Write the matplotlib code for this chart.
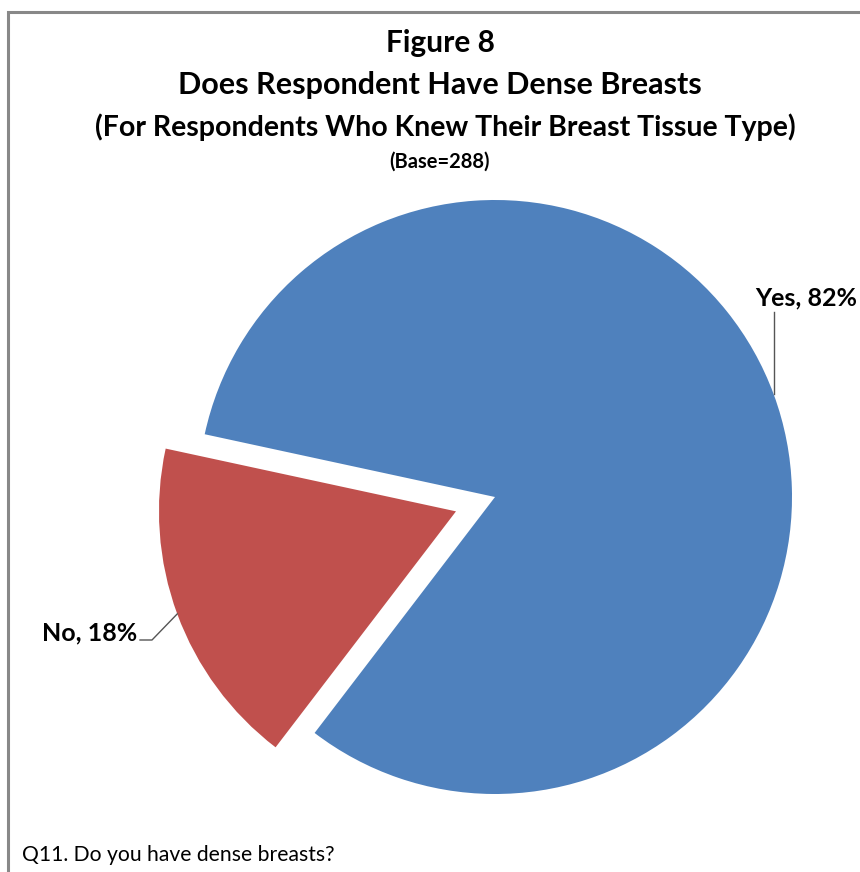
import matplotlib.pyplot as plt
import numpy as np

# data
labels = ["Yes", "No"]
values = [82, 18]
colors = ["#4F81BD", "#C0504D"]

title_lines = ["Figure 8",
               "Does Respondent Have Dense Breasts",
               "(For Respondents Who Knew Their Breast Tissue Type)"]
base_note = "(Base=288)"
footnote = "Q11. Do you have dense breasts?"

plt.rcParams["font.family"] = ["Lato", "DejaVu Sans"]

W, H = 860, 872
fig = plt.figure(figsize=(W / 100, H / 100), dpi=100)
ax = fig.add_axes([0, 0, 1, 1])

# frame around the chart area
ax.plot([7.5, 7.5, W + 5], [H + 5, 12.5, 12.5], color="#888888", lw=2.2,
        solid_joinstyle="miter", clip_on=False)

# pie (y axis inverted -> counterclock=False gives counterclockwise on screen)
cx, cy, r = 495, 497, 297
explode = [0, 0.14 * r]  # matplotlib explode is in data units here
wedges, _ = ax.pie(values, colors=colors, explode=explode, startangle=-232.6,
                   counterclock=False, center=(cx, cy), radius=r,
                   wedgeprops=dict(linewidth=0), frame=True)
ax.set_xlim(0, W)
ax.set_ylim(H, 0)
ax.set_aspect("equal")
ax.axis("off")


def edge_point(w):
    mid = np.deg2rad((w.theta1 + w.theta2) / 2)
    x0, y0 = w.center
    return x0 + w.r * np.cos(mid), y0 + w.r * np.sin(mid)


# Yes label
ex, ey = edge_point(wedges[0])
ax.plot([ex, ex], [ey, 312], color="#555555", lw=1)
ax.text(806, 298, f"{labels[0]}, {values[0]}%", fontsize=18, fontweight="bold",
        ha="center", va="center")

# No label
ex, ey = edge_point(wedges[1])
ax.plot([ex, 152, 140], [ey, 640, 640], color="#555555", lw=1)
ax.text(137, 633, f"{labels[1]}, {values[1]}%", fontsize=18, fontweight="bold",
        ha="right", va="center")

# titles
ax.text(440, 43, title_lines[0], fontsize=21.5, fontweight="bold", ha="center", va="center")
ax.text(440, 85, title_lines[1], fontsize=22, fontweight="bold", ha="center", va="center")
ax.text(445, 127, title_lines[2], fontsize=20.5, fontweight="bold", ha="center", va="center")
ax.text(440, 162, base_note, fontsize=14.5, fontweight="bold", ha="center", va="center")

ax.text(22, 855, footnote, fontsize=15.2, ha="left", va="center")

fig.savefig("out.png", dpi=100)
